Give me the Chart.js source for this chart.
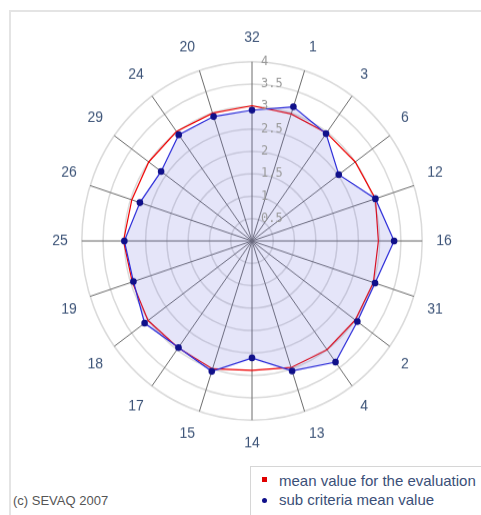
<!DOCTYPE html>
<html>
<head>
<meta charset="utf-8">
<script src="https://cdn.jsdelivr.net/npm/chart.js@4/dist/chart.umd.min.js"></script>
<style>
  body { margin: 0; background: #fff; width: 481px; height: 515px; overflow: hidden; position: relative;
         font-family: "Liberation Sans", Arial, sans-serif; }
  #frame { position: absolute; left: 9px; top: 10px; width: 500px; height: 520px;
           border-top: 2px solid #e4e4e4; border-left: 2px solid #e4e4e4; }
  #wrap { position: absolute; left: 51px; top: 41px; width: 402px; height: 402px;
          transform: scaleY(1.053); transform-origin: 201px 201px; }
  #legend { position: absolute; left: 250px; top: 466px; width: 240px; height: 60px;
            border: 1px solid #d6d6d6; color: #3b4f78; font-size: 15px; }
  #legend div { position: absolute; left: 28px; white-space: nowrap; }
  #legend span { position: absolute; left: -17px; width: 5px; height: 5px; }
  #copy { position: absolute; left: 13px; top: 493px; font-size: 13px; color: #555; }
</style>
</head>
<body>
<div id="frame"></div>
<div id="wrap"><canvas id="radar" width="402" height="402"></canvas></div>
<div id="legend">
  <div style="top:5px"><span style="top:5px;background:#e00000"></span>mean value for the evaluation</div>
  <div style="top:24px"><span style="top:7px;background:#10108a;border-radius:50%"></span>sub criteria mean value</div>
</div>
<div id="copy">(c) SEVAQ 2007</div>
<script>
// 기준 번호 (시계 방향, 위에서 시작)
const criteria = ['32', '1', '3', '6', '12', '16', '31', '2', '4', '13', '14', '15', '17', '18', '19', '25', '26', '29', '24', '20'];
const evaluationMean = [3.02, 2.98, 2.98, 3.0, 3.05, 2.97, 3.0, 3.0, 3.0, 2.97, 2.89, 3.0, 2.95, 3.02, 2.96, 3.02, 2.97, 3.0, 3.02, 3.0];
const subCriteriaMean = [2.92, 3.15, 2.96, 2.52, 3.05, 3.34, 3.04, 3.06, 3.34, 3.05, 2.61, 3.06, 2.94, 3.12, 2.93, 3.0, 2.77, 2.64, 2.93, 2.92];
const tickLabels = ['0.5', '1', '1.5', '2', '2.5', '3', '3.5', '4'];

// 눈금 글자는 축 오른쪽에 왼쪽 정렬로 그림
const tickLabelPlugin = {
    id: 'tickLabelPlugin',
    afterDatasetsDraw(chart) {
        const scale = chart.scales.r;
        const ctx = chart.ctx;
        ctx.save();
        ctx.font = '12px "DejaVu Sans Mono", monospace';
        ctx.fillStyle = '#9a9a9a';
        ctx.textAlign = 'left';
        ctx.textBaseline = 'middle';
        tickLabels.forEach(label => {
            const d = scale.getDistanceFromCenterForValue(parseFloat(label));
            ctx.fillText(label, scale.xCenter + 9, scale.yCenter - d);
        });
        ctx.restore();
    }
};

const ctx = document.getElementById('radar').getContext('2d');
new Chart(ctx, {
    type: 'radar',
    data: {
        labels: criteria,
        datasets: [{
            label: 'mean value for the evaluation',
            data: evaluationMean,
            borderColor: '#ee0000',
            borderWidth: 1.2,
            fill: false,
            pointRadius: 0,
            order: 2
        }, {
            label: 'sub criteria mean value',
            data: subCriteriaMean,
            borderColor: '#2a2ad8',
            borderWidth: 1.2,
            backgroundColor: 'rgba(102, 102, 221, 0.17)',
            fill: true,
            pointRadius: 3.3,
            pointBackgroundColor: '#10108a',
            pointBorderColor: '#10108a',
            pointBorderWidth: 0,
            order: 1
        }]
    },
    options: {
        responsive: false,
        animation: false,
        devicePixelRatio: 1,
        layout: { padding: 0 },
        plugins: {
            legend: { display: false },
            tooltip: { enabled: false }
        },
        elements: { line: { tension: 0 } },
        scales: {
            r: {
                min: 0,
                max: 4,
                ticks: { display: false, stepSize: 0.5 },
                grid: { circular: true, color: '#dadada', lineWidth: 1.5 },
                angleLines: { color: '#6c6c6c', lineWidth: 1 },
                pointLabels: {
                    padding: 14,
                    color: '#3d5478',
                    font: { family: '"Liberation Sans", Arial, sans-serif', size: 14 }
                }
            }
        }
    },
    plugins: [tickLabelPlugin]
});
</script>
</body>
</html>
